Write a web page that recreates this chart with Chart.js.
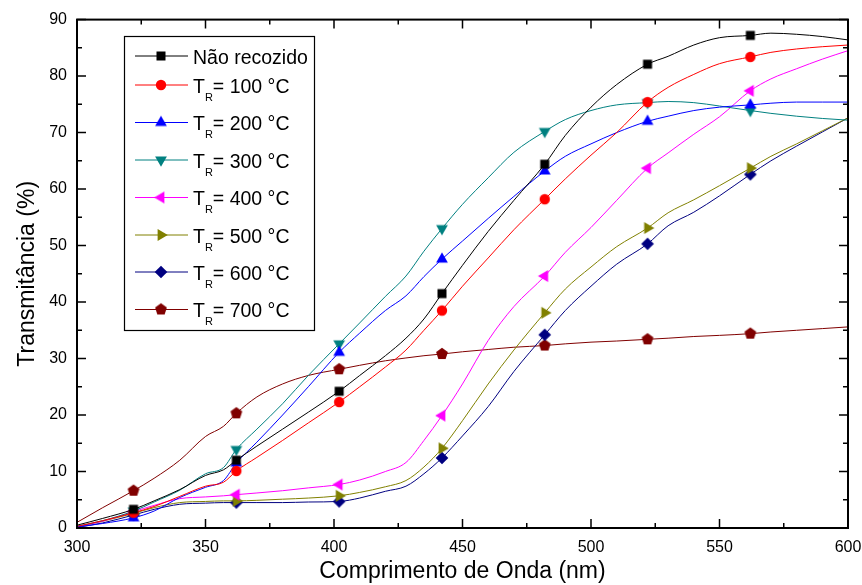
<!DOCTYPE html>
<html>
<head>
<meta charset="utf-8">
<script src="https://cdn.jsdelivr.net/npm/chart.js@4.4.1/dist/chart.umd.min.js"></script>
<style>
  html, body { margin: 0; padding: 0; background: #fff; }
  #caixa { width: 862px; height: 585px; }
</style>
</head>
<body>
<div id="caixa"><canvas id="grafico"></canvas></div>
<script>
// comprimento de onda (nm)
const comprimentos = [300, 310, 322, 330, 340, 350, 357, 362, 370, 380, 390, 402, 410, 420, 428, 435, 442, 450, 460, 470, 482, 490, 500, 510, 522, 530, 540, 550, 562, 570, 580, 590, 600];
const posMarcadores = [322, 362, 402, 442, 482, 522, 562];

// transmitancia (%)
const naoRecozido = [0.5, 1.7, 3.3, 4.8, 6.8, 9.3, 10.3, 12.0, 14.5, 17.5, 20.5, 24.2, 27.0, 30.5, 33.6, 37.0, 41.5, 46.5, 52.5, 58.0, 64.4, 69.5, 74.5, 78.5, 82.1, 83.5, 85.5, 86.8, 87.2, 87.6, 87.4, 87.0, 86.4];
const tr100 = [0.3, 1.3, 2.7, 3.8, 5.6, 7.4, 8.1, 10.1, 12.5, 15.5, 18.6, 22.3, 25.0, 28.5, 31.5, 35.0, 38.5, 42.8, 47.8, 52.8, 58.2, 61.8, 66.0, 70.0, 75.4, 78.0, 80.3, 82.2, 83.4, 84.2, 84.8, 85.2, 85.5];
const tr200 = [0.2, 0.8, 1.8, 3.0, 5.4, 7.2, 8.4, 11.5, 15.2, 20.0, 25.0, 31.1, 34.5, 38.5, 41.1, 44.5, 47.6, 50.8, 54.8, 58.7, 63.2, 65.8, 68.0, 70.0, 72.0, 72.9, 73.9, 74.5, 74.9, 75.2, 75.4, 75.4, 75.4];
const tr300 = [0.3, 1.3, 3.0, 4.6, 6.7, 9.6, 10.7, 13.9, 17.5, 22.0, 27.0, 32.6, 36.3, 41.0, 44.6, 49.0, 53.0, 57.3, 62.0, 66.5, 70.2, 72.3, 73.9, 74.9, 75.3, 75.5, 75.3, 74.7, 73.9, 73.4, 72.9, 72.5, 72.2];
const tr400 = [0.2, 1.2, 2.9, 4.0, 5.2, 5.5, 5.7, 5.9, 6.2, 6.6, 7.1, 7.7, 8.5, 10.0, 11.6, 15.5, 19.9, 25.5, 33.2, 39.2, 44.6, 48.8, 53.2, 58.0, 63.7, 66.4, 69.7, 72.8, 77.4, 79.5, 81.3, 83.0, 84.5];
const tr500 = [0.2, 1.2, 2.6, 3.6, 4.5, 4.7, 4.8, 4.8, 4.9, 5.1, 5.3, 5.7, 6.3, 7.3, 8.4, 10.8, 14.1, 19.0, 25.5, 31.5, 38.1, 42.3, 46.2, 49.8, 53.1, 55.8, 58.1, 60.6, 63.7, 65.8, 68.0, 70.3, 72.6];
const tr600 = [0.1, 0.9, 2.3, 3.3, 4.2, 4.4, 4.5, 4.5, 4.5, 4.5, 4.6, 4.7, 5.3, 6.5, 7.4, 9.6, 12.4, 16.3, 21.5, 27.7, 34.2, 38.5, 42.8, 46.7, 50.3, 53.5, 55.9, 58.8, 62.6, 65.0, 67.6, 70.1, 72.6];
const tr700 = [1.0, 3.6, 6.6, 8.8, 12.0, 16.2, 18.0, 20.3, 23.2, 25.5, 27.0, 28.1, 28.8, 29.6, 30.1, 30.5, 30.8, 31.2, 31.6, 32.0, 32.3, 32.6, 32.9, 33.1, 33.4, 33.6, 33.9, 34.1, 34.4, 34.7, 35.0, 35.3, 35.6];

const series = [naoRecozido, tr100, tr200, tr300, tr400, tr500, tr600, tr700];
const temperaturas = [null, '100', '200', '300', '400', '500', '600', '700'];
const cores = ['#000000', '#FF0000', '#0000FF', '#008080', '#FF00FF', '#808000', '#000080', '#800000'];
const formas = ['quadrado', 'circulo', 'triCima', 'triBaixo', 'triEsq', 'triDir', 'losango', 'pentagono'];

const fonte = "'Liberation Sans', Arial, sans-serif";

function poligono(c, n, r, anguloIni) {
    c.beginPath();
    for (let i = 0; i < n; i++) {
        const a = (anguloIni + i * 360 / n) * Math.PI / 180;
        const px = 8 + r * Math.cos(a), py = 8 + r * Math.sin(a);
        if (i === 0) c.moveTo(px, py); else c.lineTo(px, py);
    }
    c.closePath();
    c.fill();
}

function criarMarcador(forma, cor) {
    const cv = document.createElement('canvas');
    cv.width = 16; cv.height = 16;
    const c = cv.getContext('2d');
    c.fillStyle = cor;
    if (forma === 'quadrado') c.fillRect(3.5, 3.5, 9, 9);
    else if (forma === 'circulo') { c.beginPath(); c.arc(8, 8, 5.2, 0, Math.PI * 2); c.fill(); }
    else if (forma === 'triCima') poligono(c, 3, 6.8, -90);
    else if (forma === 'triBaixo') poligono(c, 3, 6.8, 90);
    else if (forma === 'triEsq') poligono(c, 3, 6.8, 180);
    else if (forma === 'triDir') poligono(c, 3, 6.8, 0);
    else if (forma === 'losango') poligono(c, 4, 6.3, -90);
    else if (forma === 'pentagono') poligono(c, 5, 6.2, -90);
    return cv;
}

const marcadores = formas.map((f, i) => criarMarcador(f, cores[i]));

const datasets = series.map((valores, i) => ({
    label: temperaturas[i] ? 'TR= ' + temperaturas[i] + ' °C' : 'Não recozido',
    data: comprimentos.map((x, k) => ({ x: x, y: valores[k] })),
    borderColor: cores[i],
    backgroundColor: cores[i],
    borderWidth: 1,
    cubicInterpolationMode: 'monotone',
    pointStyle: marcadores[i],
    pointRadius: ctx => (ctx.raw && posMarcadores.includes(ctx.raw.x)) ? 5 : 0,
    pointHoverRadius: 0
}));

// moldura com marcas para dentro e legenda com subscrito
const moldura = {
    id: 'moldura',
    afterDatasetsDraw(chart) {
        const { ctx, chartArea: a, scales } = chart;
        ctx.save();
        ctx.strokeStyle = '#000';
        ctx.lineWidth = 2;
        ctx.strokeRect(a.left, a.top, a.right - a.left, a.bottom - a.top);
        ctx.lineWidth = 1.5;
        const marcas = (escala) => {
            const t = escala.ticks.map(tk => tk.value);
            const lista = [];
            t.forEach((v, i) => {
                lista.push({ v: v, len: 9 });
                if (i < t.length - 1) lista.push({ v: (v + t[i + 1]) / 2, len: 5 });
            });
            return lista;
        };
        ctx.beginPath();
        marcas(scales.x).forEach(m => {
            const px = scales.x.getPixelForValue(m.v);
            ctx.moveTo(px, a.bottom); ctx.lineTo(px, a.bottom - m.len);
            ctx.moveTo(px, a.top); ctx.lineTo(px, a.top + m.len);
        });
        marcas(scales.y).forEach(m => {
            const py = scales.y.getPixelForValue(m.v);
            ctx.moveTo(a.left, py); ctx.lineTo(a.left + m.len, py);
            ctx.moveTo(a.right, py); ctx.lineTo(a.right - m.len, py);
        });
        ctx.stroke();
        ctx.restore();
    },
    afterDraw(chart) {
        const ctx = chart.ctx;
        const linhasY = [56, 85, 122.5, 160, 197.5, 235, 272, 309.5];
        ctx.save();
        ctx.fillStyle = '#fff';
        ctx.fillRect(124.5, 36.5, 190, 294);
        ctx.strokeStyle = '#000';
        ctx.lineWidth = 1.2;
        ctx.strokeRect(124.5, 36.5, 190, 294);
        linhasY.forEach((y, i) => {
            ctx.strokeStyle = cores[i];
            ctx.lineWidth = 1;
            ctx.beginPath();
            ctx.moveTo(135, y); ctx.lineTo(188, y);
            ctx.stroke();
            ctx.drawImage(marcadores[i], 161 - 8, y - 8);
            ctx.fillStyle = '#000';
            ctx.textBaseline = 'alphabetic';
            ctx.textAlign = 'left';
            const base = y + 7.5;
            let x = 193;
            ctx.font = '19.5px ' + fonte;
            if (!temperaturas[i]) {
                ctx.fillText('Não recozido', x, base);
            } else {
                ctx.fillText('T', x, base);
                x += ctx.measureText('T').width;
                ctx.font = '11px ' + fonte;
                ctx.fillText('R', x, base + 8);
                x += ctx.measureText('R').width;
                ctx.font = '19.5px ' + fonte;
                ctx.fillText('= ' + temperaturas[i] + ' °C', x, base);
            }
        });
        ctx.restore();
    }
};

new Chart(document.getElementById('grafico'), {
    type: 'line',
    data: { datasets: datasets },
    plugins: [moldura],
    options: {
        responsive: true,
        maintainAspectRatio: false,
        animation: false,
        layout: { padding: { left: 0, right: 14, top: 18, bottom: 0 } },
        plugins: {
            legend: { display: false },
            tooltip: { enabled: false }
        },
        scales: {
            x: {
                type: 'linear',
                min: 300,
                max: 600,
                ticks: { stepSize: 50, color: '#000', padding: 10, maxRotation: 0, font: { family: fonte, size: 16 } },
                grid: { display: false, drawTicks: false },
                border: { display: false },
                title: { display: true, text: 'Comprimento de Onda (nm)', color: '#000', padding: 0, font: { family: fonte, size: 23 } },
                afterFit: escala => {
                    escala.height = 57;
                    escala.paddingLeft = 0;
                    escala.paddingRight = 0;
                }
            },
            y: {
                min: 0,
                max: 90,
                ticks: { stepSize: 10, color: '#000', padding: 10, font: { family: fonte, size: 16 } },
                grid: { display: false, drawTicks: false },
                border: { display: false },
                title: { display: true, text: 'Transmitância (%)', color: '#000', padding: { top: 14, bottom: 0 }, font: { family: fonte, size: 23 } },
                afterFit: escala => { escala.width = 77; }
            }
        }
    }
});
</script>
</body>
</html>
